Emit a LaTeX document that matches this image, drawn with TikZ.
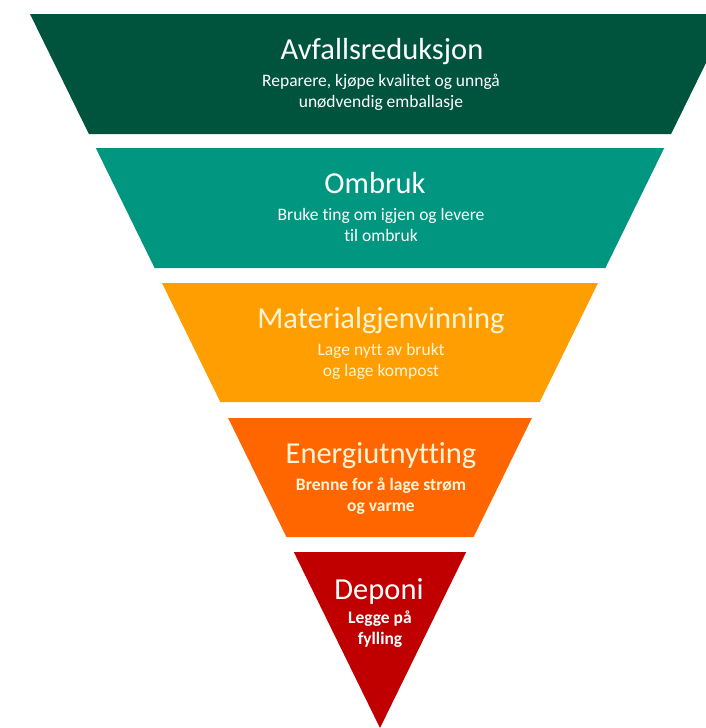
\documentclass[tikz,border=0pt]{standalone}
\usepackage{fontspec}
\setmainfont{Carlito}[Ligatures = NoCommon]
\usepackage{tikz}

\definecolor{reduce}{RGB}{0,84,62}
\definecolor{reuse}{RGB}{0,150,128}
\definecolor{recycle}{RGB}{255,158,0}
\definecolor{energy}{RGB}{255,102,0}
\definecolor{landfill}{RGB}{192,0,0}
\definecolor{cream}{RGB}{255,244,214}

\begin{document}
\begin{tikzpicture}[x = 1pt, y = -1pt,
  title/.style = {anchor = base, text = white, inner sep = 0pt, font = \fontsize{30.5}{30.5}\selectfont},
  sub/.style = {anchor = base, text = white, inner sep = 0pt, align = center, font = \fontsize{17.5}{21}\selectfont}]
\useasboundingbox (0,0) rectangle (706,728);
\clip (0,0) rectangle (706,728);
\fill [reduce] (30,14) -- (730,14) -- (671.1,134) -- (88.9,134) -- cycle;
\fill [reuse] (95.8,148) -- (664.2,148) -- (605.4,268) -- (154.6,268) -- cycle;
\fill [recycle] (162,283) -- (598,283) -- (539.7,402) -- (220.3,402) -- cycle;
\fill [energy] (228.1,418) -- (531.9,418) -- (473.6,537) -- (286.4,537) -- cycle;
\fill [landfill] (293.8,552) -- (466.2,552) -- (380,728) -- cycle;
% base of a two-line node is its last line
\node [title] (avfall) at (382,59) {Avfallsreduksjon};
\node [sub] (avfallsub) at (381,107) {Reparere, kjøpe kvalitet og unngå\\unødvendig emballasje};
\node [title] (ombruk) at (375,193) {Ombruk};
\node [sub] (ombruksub) at (381,241) {Bruke ting om igjen og levere\\til ombruk};
\node [title, text = cream] (material) at (381,328) {Materialgjenvinning};
\node [sub, text = cream] (materialsub) at (381,376) {Lage nytt av brukt\\og lage kompost};
\node [title, text = cream] (energi) at (381,463) {Energiutnytting};
\node [sub, text = cream, font = \fontsize{17.5}{21}\selectfont\bfseries] (energisub) at (381,511) {Brenne for å lage strøm\\og varme};
\node [title] (deponi) at (379,599) {Deponi};
\node [sub, font = \fontsize{17.5}{21}\selectfont\bfseries] (deponisub) at (380,644) {Legge på\\fylling};
\end{tikzpicture}
\end{document}
